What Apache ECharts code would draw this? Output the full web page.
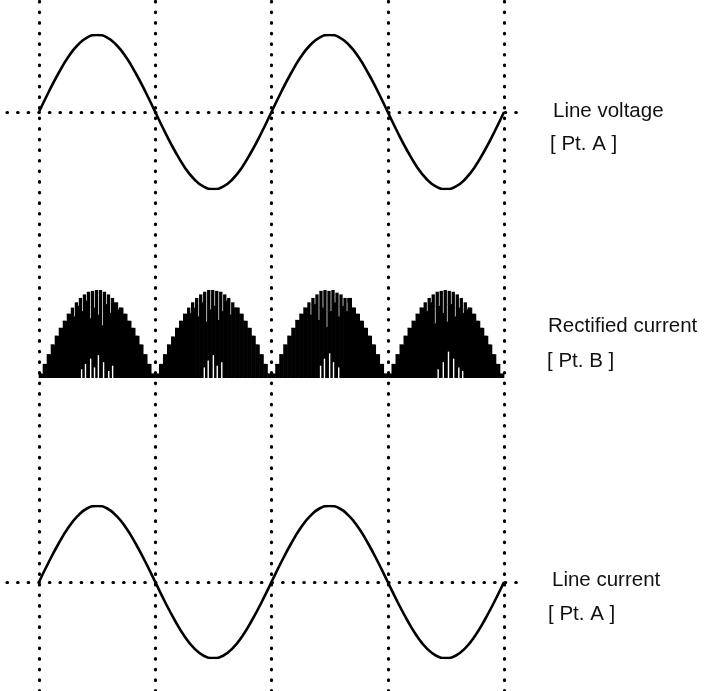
<!DOCTYPE html>
<html>
<head>
<meta charset="utf-8">
<script src="https://cdn.jsdelivr.net/npm/echarts@6/dist/echarts.min.js"></script>
<style>
  html, body { margin: 0; padding: 0; background: #fff; }
  #chart { width: 707px; height: 691px; }
</style>
</head>
<body>
<div id="chart"></div>
<script>
// Electrical angle (degrees) of each waveform sample, two full line cycles
const angleDeg = [0,15,30,45,60,75,90,105,120,135,150,165,180,195,210,225,240,255,270,285,300,315,330,345,
                  360,375,390,405,420,435,450,465,480,495,510,525,540,555,570,585,600,615,630,645,660,675,690,705,720];

// Normalised line voltage at point A
const lineVoltage = [0,0.26,0.50,0.71,0.87,0.97,1,0.97,0.87,0.71,0.50,0.26,0,-0.26,-0.50,-0.71,-0.87,-0.97,-1,-0.97,-0.87,-0.71,-0.50,-0.26,
                     0,0.26,0.50,0.71,0.87,0.97,1,0.97,0.87,0.71,0.50,0.26,0,-0.26,-0.50,-0.71,-0.87,-0.97,-1,-0.97,-0.87,-0.71,-0.50,-0.26,0];

// Normalised line current at point A
const lineCurrent = [0,0.26,0.50,0.71,0.87,0.97,1,0.97,0.87,0.71,0.50,0.26,0,-0.26,-0.50,-0.71,-0.87,-0.97,-1,-0.97,-0.87,-0.71,-0.50,-0.26,
                     0,0.26,0.50,0.71,0.87,0.97,1,0.97,0.87,0.71,0.50,0.26,0,-0.26,-0.50,-0.71,-0.87,-0.97,-1,-0.97,-0.87,-0.71,-0.50,-0.26,0];

// Half-cycle boundaries (zero crossings)
const cycleMarks = [0, 180, 360, 540, 720];

// Rectified current at point B: switching pulses per half cycle.
// Peak = pulse top, floor = level below which neighbouring pulses merge.
const hump1Peak  = [.05,.16,.27,.38,.48,.57,.65,.73,.80,.86,.91,.95,.98,.99,1.0,1.0,.98,.95,.91,.86,.80,.73,.65,.57,.48,.38,.27,.16,.05];
const hump1Floor = [.05,.16,.27,.38,.48,.57,.65,.73,.70,.82,.76,.88,.68,.80,.72,.60,.84,.74,.86,.78,.80,.73,.65,.57,.48,.38,.27,.16,.05];
const hump2Peak  = [.05,.16,.27,.38,.47,.57,.65,.73,.80,.86,.91,.95,.98,1.0,1.0,.99,.98,.95,.91,.86,.80,.73,.65,.57,.48,.38,.27,.16,.05];
const hump2Floor = [.05,.16,.27,.38,.47,.57,.65,.73,.74,.80,.70,.86,.64,.78,.82,.66,.76,.88,.72,.80,.80,.73,.65,.57,.48,.38,.27,.16,.05];
const hump3Peak  = [.05,.16,.27,.38,.48,.57,.66,.73,.80,.86,.91,.95,.99,1.0,.99,1.0,.97,.95,.91,.86,.80,.73,.65,.57,.48,.38,.27,.16,.05];
const hump3Floor = [.05,.16,.27,.38,.48,.57,.66,.73,.80,.72,.84,.66,.80,.58,.76,.86,.70,.82,.76,.91,.80,.73,.65,.57,.48,.38,.27,.16,.05];
const hump4Peak  = [.05,.16,.27,.38,.48,.57,.65,.73,.80,.86,.91,.95,.98,.99,1.0,.99,.98,.95,.91,.86,.80,.73,.65,.57,.48,.38,.27,.16,.05];
const hump4Floor = [.05,.16,.27,.38,.48,.57,.65,.73,.80,.76,.86,.62,.82,.74,.64,.84,.70,.80,.74,.78,.80,.73,.65,.57,.48,.38,.27,.16,.05];

// Short zero-current gaps near the base of each half cycle: [angle, height]
const baseGaps = [[66,.10],[72,.16],[80,.22],[86,.12],[92,.26],[100,.18],[108,.08],[114,.14],
                  [256,.12],[262,.20],[270,.26],[276,.14],[283,.18],
                  [436,.14],[442,.22],[450,.28],[456,.18],[464,.12],
                  [618,.10],[626,.18],[634,.30],[642,.22],[650,.12],[656,.08]];

const traceLabels = [
  ['Line voltage', '[ Pt. A ]'],
  ['Rectified current', '[ Pt. B ]'],
  ['Line current', '[ Pt. A ]']
];

const humps = [[hump1Peak, hump1Floor], [hump2Peak, hump2Floor], [hump3Peak, hump3Floor], [hump4Peak, hump4Floor]];
const pulsesPerHalf = hump1Peak.length;
const pulseSpan = 180 / pulsesPerHalf;
const pulseData = [];
humps.forEach(function (h, k) {
  h[0].forEach(function (p, i) {
    pulseData.push([180 * k + (i + 0.5) * pulseSpan, p, h[1][i]]);
  });
});

const X_MIN = -49.5, X_MAX = 754;
const dotted = { color: '#000', width: 3.2, type: [0.5, 10.1], cap: 'round' };
const font = '"Liberation Sans", Arial, Helvetica, sans-serif';

function xAxisFor(gi) {
  return { gridIndex: gi, type: 'value', min: X_MIN, max: X_MAX, show: false };
}

const chart = echarts.init(document.getElementById('chart'), null, { renderer: 'canvas' });

const labelGraphics = [];
const labelPos = [[553, 111, 550, 144], [548, 326, 547, 361], [552, 580, 548, 614]];
traceLabels.forEach(function (pair, i) {
  const p = labelPos[i];
  labelGraphics.push({ type: 'text', x: p[0], y: p[1], style: { text: pair[0], font: '20.5px ' + font, fill: '#111', textVerticalAlign: 'middle' } });
  labelGraphics.push({ type: 'text', x: p[2], y: p[3], style: { text: pair[1], font: '20.5px ' + font, fill: '#111', textVerticalAlign: 'middle' } });
});

chart.setOption({
  animation: false,
  backgroundColor: '#fff',
  grid: [
    { left: 7, right: 181, top: 0, height: 691 },
    { left: 7, right: 181, top: 35, height: 154 },
    { left: 7, right: 181, top: 290, height: 88 },
    { left: 7, right: 181, top: 506, height: 152 }
  ],
  xAxis: [xAxisFor(0), xAxisFor(1), xAxisFor(2), xAxisFor(3)],
  yAxis: [
    { gridIndex: 0, type: 'value', min: 0, max: 1, show: false },
    { gridIndex: 1, type: 'value', min: -1, max: 1, show: false },
    { gridIndex: 2, type: 'value', min: 0, max: 1, show: false },
    { gridIndex: 3, type: 'value', min: -1, max: 1, show: false }
  ],
  graphic: labelGraphics,
  series: [
    {
      name: 'cycle marks', type: 'line', xAxisIndex: 0, yAxisIndex: 0, z: 1,
      data: [], silent: true,
      markLine: {
        silent: true, symbol: 'none', label: { show: false },
        lineStyle: dotted,
        data: cycleMarks.map(function (v) { return { xAxis: v }; })
      }
    },
    {
      name: 'Line voltage', type: 'line', xAxisIndex: 1, yAxisIndex: 1, z: 3,
      data: angleDeg.map(function (a, i) { return [a, lineVoltage[i]]; }),
      smooth: true, showSymbol: false,
      lineStyle: { color: '#000', width: 2.6 },
      markLine: {
        silent: true, symbol: 'none', label: { show: false },
        lineStyle: dotted, data: [{ yAxis: 0 }]
      }
    },
    {
      name: 'Rectified current', type: 'custom', xAxisIndex: 2, yAxisIndex: 2, z: 3,
      data: pulseData,
      renderItem: function (params, api) {
        const x = api.value(0), peak = api.value(1), floor = api.value(2);
        const base = api.coord([x, 0]);
        const top = api.coord([x, peak]);
        const mid = api.coord([x, floor]);
        const slot = api.size([pulseSpan, 0])[0];
        const left = base[0] - slot / 2;
        return {
          type: 'group',
          children: [
            { type: 'rect', shape: { x: left - 0.3, y: mid[1], width: slot + 0.6, height: base[1] - mid[1] }, style: { fill: '#000' } },
            { type: 'rect', shape: { x: left - 0.3, y: top[1], width: slot - 0.7, height: mid[1] - top[1] + 0.5 }, style: { fill: '#000' } }
          ]
        };
      }
    },
    {
      name: 'zero-current gaps', type: 'custom', xAxisIndex: 2, yAxisIndex: 2, z: 4,
      data: baseGaps,
      renderItem: function (params, api) {
        const base = api.coord([api.value(0), 0]);
        const top = api.coord([api.value(0), api.value(1)]);
        return { type: 'rect', shape: { x: base[0] - 0.7, y: top[1], width: 1.4, height: base[1] - top[1] }, style: { fill: '#fff' } };
      }
    },
    {
      name: 'Line current', type: 'line', xAxisIndex: 3, yAxisIndex: 3, z: 3,
      data: angleDeg.map(function (a, i) { return [a, lineCurrent[i]]; }),
      smooth: true, showSymbol: false,
      lineStyle: { color: '#000', width: 2.6 },
      markLine: {
        silent: true, symbol: 'none', label: { show: false },
        lineStyle: dotted, data: [{ yAxis: 0 }]
      }
    }
  ]
});
</script>
</body>
</html>
